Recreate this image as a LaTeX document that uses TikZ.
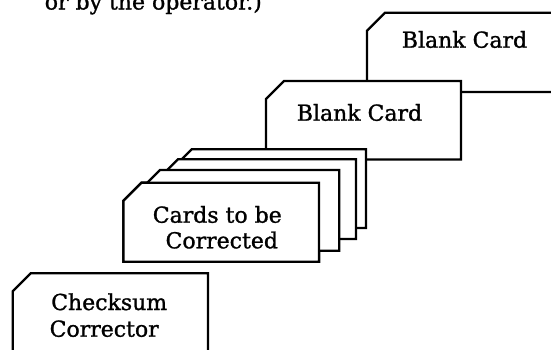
\documentclass[tikz,border=0pt]{standalone}
\usepackage{fontspec}
\setmainfont{DejaVu Serif}[FakeBold=1.2,AutoFakeBold=1.2]
\tikzset{
  >=latex,
}
\tikzstyle{card}=[line width=2.3pt,fill=white,line join=miter]
\tikzstyle{every node}=[font=\fontsize{22}{26}\selectfont\bfseries,inner sep=0pt,anchor=base]
\newcommand{\cardshape}[4]{%
  \draw[card] (#1,#2+18) -- (#1+18,#2) -- (#3,#2) -- (#3,#4) -- (#1,#4) -- cycle;}

\begin{document}
\begin{tikzpicture}[x=1pt,y=-1pt]
    \useasboundingbox (0,0) rectangle (551,349);
    \clip (0,0) rectangle (551,349);
    \node (note) at (153.3,9.5) {or by the operator.)};
    % blank cards
    \cardshape{367}{12.7}{600}{92}
    \node (blankA) at (464.5,47.7) {Blank Card};
    \cardshape{266}{81}{461}{159.5}
    \node (blankB) at (359.5,120.7) {Blank Card};
    % deck to be fixed
    \foreach \l/\t/\r/\b in {173.7/149.3/366/228,160/159.3/356/239,142/170/339.3/250.7}
      \cardshape{\l}{\t}{\r}{\b}
    \cardshape{123.5}{182.7}{319}{261.7}
    \node (fixA) at (217.3,222.7) {Cards to be};
    \node (fixB) at (221.8,248.3) {Corrected};
    % corrector card
    \cardshape{12.7}{273.3}{208}{400}
    \node (sumA) at (109.2,310) {Checksum};
    \node (sumB) at (104.2,336.7) {Corrector};
\end{tikzpicture}
\end{document}
